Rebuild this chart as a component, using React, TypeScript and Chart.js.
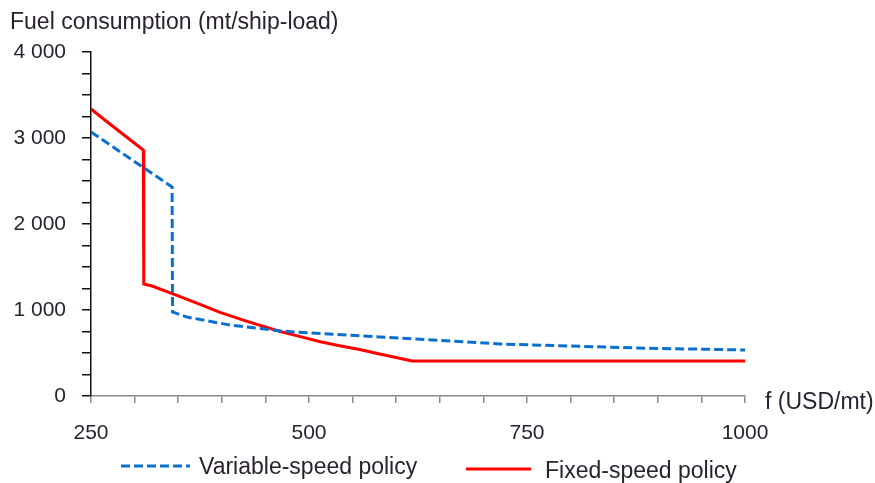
import React, { useEffect, useRef } from "react";
import { Chart, registerables } from "chart.js";

Chart.register(...registerables);

const fixedF = [250, 272, 310, 310.5, 320, 350, 375, 398, 430, 467, 490, 513, 535, 558, 581, 600, 618, 1000];
const fixedV = [3337, 3160, 2860, 1302, 1279, 1165, 1065, 972, 865, 750, 690, 630, 585, 540, 488, 448, 407, 407];
const varF = [250, 343, 343.5, 360, 409, 467, 501, 581, 719, 876, 1000];
const varV = [3070, 2430, 977, 918, 826, 756, 733, 686, 605, 558, 535];
const xLabeled = [250, 500, 750, 1000];
const yLabeled = [0, 1000, 2000, 3000, 4000];
const seriesNames = ["Variable-speed policy", "Fixed-speed policy"];
const yTitle = "Fuel consumption (mt/ship-load)";
const xTitle = "f (USD/mt)";

const BLUE = "#0b6fcf";
const RED = "#ff0000";
const TEXT = "#2a2230";
const FONT = "'Liberation Sans', Arial, sans-serif";

const fmt = (v: number) => {
  const s = String(Math.round(v));
  return s.replace(/\B(?=(\d{3})+(?!\d))/g, " ");
};

const overlay = {
  id: "overlay",
  afterDraw(chart: any) {
    const ctx = chart.ctx;
    ctx.save();
    ctx.fillStyle = TEXT;
    ctx.textBaseline = "middle";
    ctx.font = `23px ${FONT}`;
    ctx.textAlign = "left";
    ctx.fillText(yTitle, 10, 23);
    ctx.fillText(xTitle, 765, 403);
    // legend
    ctx.lineWidth = 3;
    ctx.strokeStyle = BLUE;
    ctx.setLineDash([9, 4]);
    ctx.beginPath();
    ctx.moveTo(121, 466);
    ctx.lineTo(190, 466);
    ctx.stroke();
    ctx.setLineDash([]);
    ctx.strokeStyle = RED;
    ctx.beginPath();
    ctx.moveTo(466, 469);
    ctx.lineTo(531, 469);
    ctx.stroke();
    ctx.fillText(seriesNames[0], 199, 468);
    ctx.fillText(seriesNames[1], 545, 472);
    ctx.restore();
  },
};

export default function App() {
  const ref = useRef<HTMLCanvasElement | null>(null);
  useEffect(() => {
    if (!ref.current) return;
    const chart = new Chart(ref.current, {
      type: "line",
      data: {
        datasets: [
          {
            label: seriesNames[0],
            data: varF.map((f, i) => ({ x: f, y: varV[i] })),
            borderColor: BLUE,
            borderWidth: 3,
            borderDash: [9, 4],
            pointRadius: 0,
            tension: 0,
            fill: false,
          },
          {
            label: seriesNames[1],
            data: fixedF.map((f, i) => ({ x: f, y: fixedV[i] })),
            borderColor: RED,
            borderWidth: 3,
            pointRadius: 0,
            tension: 0,
            fill: false,
          },
        ],
      },
      options: {
        animation: false,
        responsive: false,
        maintainAspectRatio: false,
        layout: { padding: { left: 0, top: 52, right: 130, bottom: 0 } },
        plugins: { legend: { display: false }, title: { display: false }, tooltip: { enabled: false } },
        scales: {
          x: {
            type: "linear",
            min: 250,
            max: 1000,
            afterFit: (s: any) => {
              s.height = 87;
            },
            afterBuildTicks: (s: any) => {
              const t = [];
              for (let v = 250; v <= 1000; v += 50) t.push({ value: v });
              s.ticks = t;
            },
            ticks: {
              autoSkip: false,
              maxRotation: 0,
              padding: 18,
              color: TEXT,
              font: { family: FONT, size: 21 },
              callback: (v: any) => (xLabeled.includes(Number(v)) ? String(v) : ""),
            },
            grid: { drawOnChartArea: false, drawTicks: true, tickLength: 7, color: "#8a8a8a", lineWidth: 1.5 },
            border: { color: "#8a8a8a", width: 1.5 },
          },
          y: {
            type: "linear",
            min: 0,
            max: 4000,
            afterFit: (s: any) => {
              s.width = 91;
            },
            afterBuildTicks: (s: any) => {
              const t = [];
              for (let v = 0; v <= 4000; v += 250) t.push({ value: v });
              s.ticks = t;
            },
            ticks: {
              autoSkip: false,
              padding: 16,
              color: TEXT,
              font: { family: FONT, size: 21 },
              callback: (v: any) => (yLabeled.includes(Number(v)) ? fmt(Number(v)) : ""),
            },
            grid: { drawOnChartArea: false, drawTicks: true, tickLength: 9, color: "#111", lineWidth: 1.5 },
            border: { color: "#111", width: 1.5 },
          },
        },
      },
      plugins: [overlay],
    });
    return () => chart.destroy();
  }, []);
  return (
    <div style={{ position: "fixed", left: 0, top: 0, width: 875, height: 483, background: "#fff" }}>
      <canvas ref={ref} width={875} height={483} style={{ width: 875, height: 483, display: "block" }} />
    </div>
  );
}
